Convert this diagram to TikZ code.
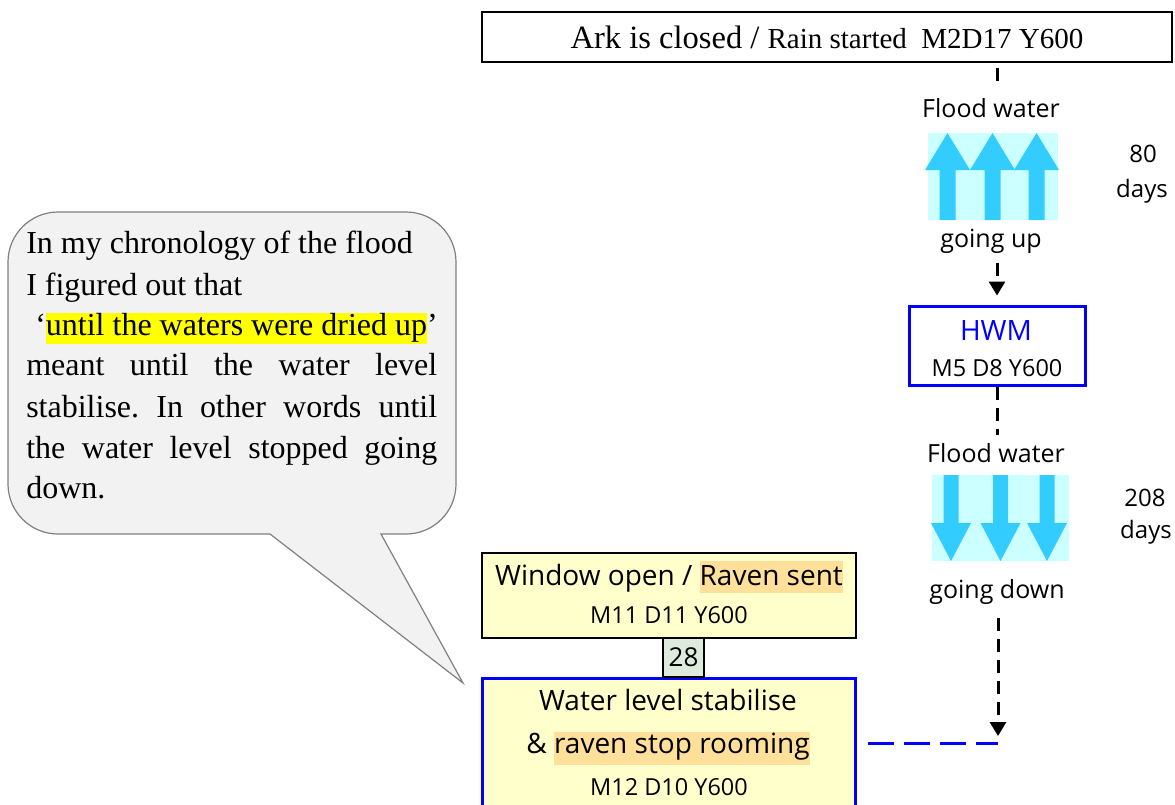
\documentclass[tikz,border=0pt]{standalone}
\usepackage{fontspec}
\setmainfont{Liberation Serif}
\newfontfamily\osans{Open Sans}
\usetikzlibrary{arrows.meta}
\definecolor{cyanbg}{HTML}{CCFFFF}
\definecolor{cyanar}{HTML}{33CCFF}
\definecolor{paleyel}{HTML}{FFFFCC}
\definecolor{hlorange}{HTML}{FFE09A}
\definecolor{hlyellow}{HTML}{FFFF00}
\definecolor{boxgreen}{HTML}{DDEBDD}
\definecolor{callfill}{HTML}{F2F2F2}
\definecolor{callline}{HTML}{808080}
\definecolor{myblue}{HTML}{0000FF}
\newcommand\fsz[1]{\fontsize{#1}{#1}\selectfont}
\setlength{\fboxsep}{0pt}
\frenchspacing
\begin{document}
\begin{tikzpicture}[x=0.75pt,y=-0.75pt,
  lbl/.style={inner sep=0pt, anchor=base, font=\osans},
  serifline/.style={inner sep=0pt, anchor=base west, font=\fontsize{24}{24}\selectfont},
  dashblack/.style={line width=2.25pt, dash pattern=on 9.75pt off 6pt},
  tipblack/.style={-{Triangle[width=12pt,length=10.5pt]}},
  blackbox/.style={draw=black, line width=1.1pt, inner sep=0pt},
  bluebox/.style={draw=myblue, line width=2.25pt, inner sep=0pt},
  bluedash/.style={draw=myblue, line width=2.25pt, dash pattern=on 19.5pt off 7.5pt}
]
\useasboundingbox (0,0) rectangle (1175,804);
\clip (0,0) rectangle (1175,804);

% callout
\filldraw[fill=callfill, draw=callline, line width=0.9pt]
  (270,534) -- (58,534) arc[start angle=90, end angle=180, radius=50]
  -- (8,262) arc[start angle=180, end angle=270, radius=50]
  -- (406,212) arc[start angle=270, end angle=360, radius=50]
  -- (456,484) arc[start angle=0, end angle=90, radius=50]
  -- (381,534) -- (463,683) -- cycle;
\node[serifline] (c1) at (26,253) {In my chronology of the flood};
\node[serifline] (c2) at (26,295) {I figured out that};
\node[serifline] (c3) at (35,335) {‘\colorbox{hlyellow}{\rule[-6.75pt]{0pt}{19.5pt}until the waters were dried up}’};
\node[serifline] (c4) at (26,375) {\makebox[308.25pt][s]{meant until the water level}};
\node[serifline] (c5) at (26,417) {\makebox[308.25pt][s]{stabilise. In other words until}};
\node[serifline] (c6) at (26,458) {\makebox[308.25pt][s]{the water level stopped going}};
\node[serifline] (c7) at (26,498) {down.};

% top box
\node[blackbox, fill=white, minimum width=517.5pt, minimum height=37.5pt] (top) at (827,37)
  {{\fsz{24.4}Ark is closed /\ }{\fsz{21.75}Rain started\ \ M2D17 Y600}};

% flood up
\fill[cyanbg] (928,133) rectangle (1058,220);
\foreach \xc in {947.5,992.5,1036.5}{
  \fill[cyanar] ({\xc-8},220) -- ({\xc-8},170) -- ({\xc-22.5},170) -- (\xc,133)
    -- ({\xc+22.5},170) -- ({\xc+8},170) -- ({\xc+8},220) -- cycle;
}
\node[lbl, font=\osans\fsz{18.75}] (flu) at (991,117) {Flood water};
\node[lbl, font=\osans\fsz{18.75}] (gup) at (991,247) {going up};
\node[lbl, font=\osans\fsz{18}] (d80) at (1143,162) {80};
\node[lbl, font=\osans\fsz{18}] (d80b) at (1142,197) {days};

% HWM
\node[bluebox, fill=white, minimum width=132pt, minimum height=59.25pt] (hwm) at (997,345.5) {};
\node[lbl, font=\osans\fsz{21}, text=myblue] (hwmt) at (996,340) {HWM};
\node[lbl, font=\osans\fsz{17.6}] (hwmd) at (997,376) {M5 D8 Y600};

% flood down
\fill[cyanbg] (932,475) rectangle (1069,561);
\foreach \xc in {951,1000.5,1047}{
  \fill[cyanar] ({\xc-7.5},475) -- ({\xc-7.5},523) -- ({\xc-20},523) -- (\xc,561)
    -- ({\xc+20},523) -- ({\xc+7.5},523) -- ({\xc+7.5},475) -- cycle;
}
\node[lbl, font=\osans\fsz{18.75}] (fld) at (996,462) {Flood water};
\node[lbl, font=\osans\fsz{18.75}] (gdn) at (997,598) {going down};
\node[lbl, font=\osans\fsz{18}] (d208) at (1145,506) {208};
\node[lbl, font=\osans\fsz{18}] (d208b) at (1146,538) {days};

% window box
\node[blackbox, fill=paleyel, minimum width=280.5pt, minimum height=63.75pt] (win) at (669,595.5) {};
\node[lbl, font=\osans\fsz{21}] (win1) at (669,585) {Window open / \colorbox{hlorange}{\rule[-6pt]{0pt}{24pt}Raven sent}};
\node[lbl, font=\osans\fsz{17.6}] (win2) at (669,623) {M11 D11 Y600};

% water box
\node[bluebox, fill=paleyel, minimum width=279.75pt, minimum height=114pt] (wat) at (668.5,754) {};
\node[lbl, font=\osans\fsz{21}] (wat1) at (668,710) {Water level stabilise};
\node[lbl, font=\osans\fsz{21}] (wat2) at (668,753) {\& \colorbox{hlorange}{\rule[-9pt]{0pt}{21pt}raven stop rooming}};
\node[lbl, font=\osans\fsz{17.6}] (wat3) at (669,795) {M12 D10 Y600};

% 28 box
\node[draw=black, line width=0.9pt, fill=boxgreen, minimum width=30.75pt, minimum height=29.25pt, inner sep=0pt, font=\osans\fsz{19.5}] (num) at (683.5,657.5) {28};

% connectors
\coordinate (j) at (998,743);
\draw[dashblack, shorten <=3.75pt, shorten >=8pt] (top.south -| hwm.north) -- (flu.north -| hwm.north);
\draw[dashblack, tipblack, shorten <=7pt, shorten >=6.75pt] (gup.south -| hwm.north) -- (hwm.north);
\draw[dashblack, shorten >=6pt] (hwm.south) -- (fld.north -| hwm.south);
\draw[dashblack, tipblack, shorten <=10.5pt, shorten >=5.25pt] (gdn.south -| j) -- (j);
\draw[bluedash, shorten <=8.4pt] (wat.east |- j) -- (j);
\end{tikzpicture}
\end{document}
